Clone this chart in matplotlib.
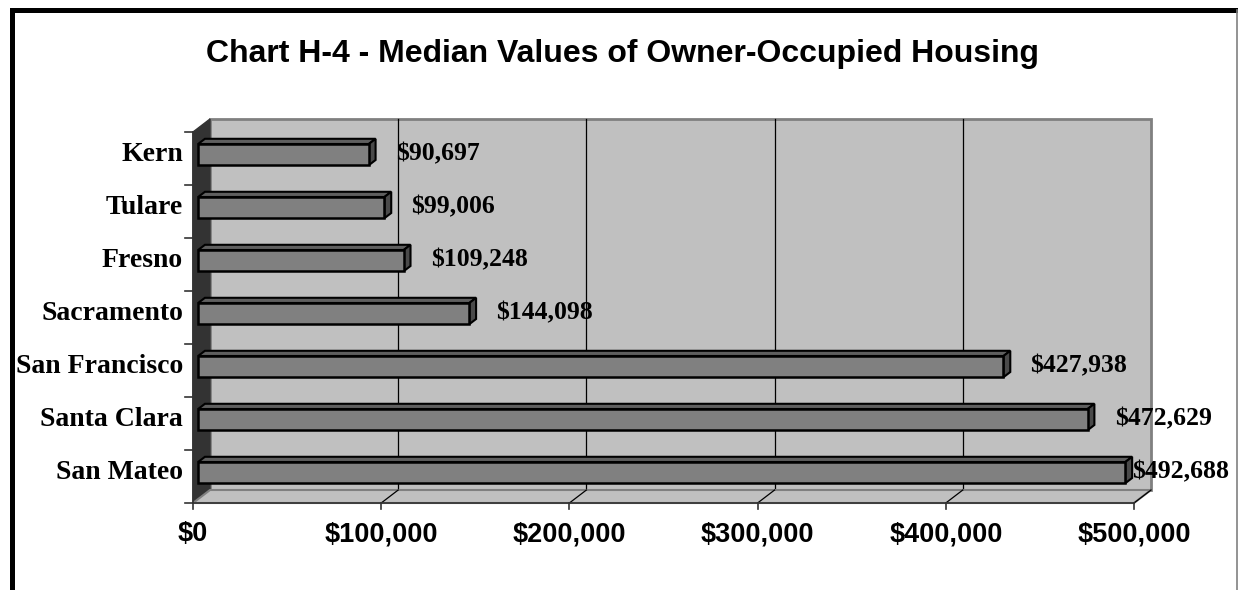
import matplotlib.pyplot as plt
from matplotlib.patches import Polygon
from matplotlib.lines import Line2D

counties = ["San Mateo", "Santa Clara", "San Francisco", "Sacramento",
            "Fresno", "Tulare", "Kern"]
median_values = [492688, 472629, 427938, 144098, 109248, 99006, 90697]
value_labels = ["$492,688", "$472,629", "$427,938", "$144,098",
                "$109,248", "$99,006", "$90,697"]
x_ticks = [0, 100000, 200000, 300000, 400000, 500000]
x_tick_labels = ["$0", "$100,000", "$200,000", "$300,000", "$400,000", "$500,000"]

W, H = 1238, 590
fig = plt.figure(figsize=(W / 100, H / 100), dpi=100)
fig.patch.set_facecolor("white")

# front plane of the 3-D box
ax = fig.add_axes([193 / W, 87 / H, 941 / W, 371 / H])
ax.set_xlim(0, 500000)
ax.set_ylim(-0.5, len(counties) - 0.5)
ax.axis("off")

# pixel sizes in data units
p0 = ax.transData.transform((0, 0))
p1 = ax.transData.transform((1, 1))
px_x = p1[0] - p0[0]
px_y = p1[1] - p0[1]
DX, DY = 17 / px_x, 13 / px_y          # full depth of the box
x0, x1 = 0, 500000
y0, y1 = -0.5, len(counties) - 0.5


def poly(pts, **kw):
    ax.add_patch(Polygon(pts, closed=True, clip_on=False, **kw))


def line(xs, ys, **kw):
    ax.add_line(Line2D(xs, ys, clip_on=False, **kw))


# back wall, side wall, floor
poly([(x0 + DX, y0 + DY), (x1 + DX, y0 + DY), (x1 + DX, y1 + DY), (x0 + DX, y1 + DY)],
     fc="#c0c0c0", ec="#808080", lw=2, zorder=1)
poly([(x0, y0), (x0 + DX, y0 + DY), (x0 + DX, y1 + DY), (x0, y1)],
     fc="#333333", ec="#333333", lw=1, zorder=2)
poly([(x0, y0), (x1, y0), (x1 + DX, y0 + DY), (x0 + DX, y0 + DY)],
     fc="#c0c0c0", ec="#808080", lw=1.5, zorder=2)

# gridlines on the wall and floor
for xv in x_ticks[1:-1]:
    line([xv + DX, xv + DX], [y0 + DY, y1 + DY], color="black", lw=0.9, zorder=1.5)
for xv in x_ticks[1:]:
    line([xv, xv + DX], [y0, y0 + DY], color="black", lw=0.9, zorder=2.5)

# axes lines and ticks
line([x0, x1], [y0, y0], color="#333333", lw=1.2, zorder=3)
line([x0, x0], [y0, y1], color="#333333", lw=1.2, zorder=3)
for xv in x_ticks:
    line([xv, xv], [y0, y0 - 6 / px_y], color="#333333", lw=1.2, zorder=3)
for k in range(len(counties) + 1):
    yv = y0 + k
    line([x0, x0 - 8 / px_x], [yv, yv], color="#333333", lw=1.2, zorder=3)

# 3-D bars
fx, fy = 0.3 * DX, 0.3 * DY
bx, by = 0.7 * DX, 0.7 * DY
half = 0.2
for i, v in enumerate(median_values):
    lo, hi = i - half + fy, i + half + fy
    ddx, ddy = bx - fx, by - fy
    z = 10 - i * 0.01
    poly([(fx, hi), (v + fx, hi), (v + fx + ddx, hi + ddy), (fx + ddx, hi + ddy)],
         fc="#5f5f5f", ec="black", lw=1.5, zorder=z)
    poly([(v + fx, lo), (v + fx + ddx, lo + ddy), (v + fx + ddx, hi + ddy), (v + fx, hi)],
         fc="#4a4a4a", ec="black", lw=1.5, zorder=z)
    poly([(fx, lo), (v + fx, lo), (v + fx, hi), (fx, hi)],
         fc="#808080", ec="black", lw=1.8, zorder=z)

# value labels
labels = []
for i, (v, s) in enumerate(zip(median_values, value_labels)):
    t = ax.text(v + fx + 27 / px_x, i + fy + 1 / px_y, s, ha="left", va="center",
                family="Liberation Serif", fontweight="bold", fontsize=18.5,
                zorder=20, clip_on=False)
    labels.append(t)

# category labels
for i, name in enumerate(counties):
    ax.text(x0 - 10 / px_x, i + fy, name, ha="right", va="center",
            family="Liberation Serif", fontweight="bold", fontsize=20, clip_on=False)

# x tick labels
for xv, s in zip(x_ticks, x_tick_labels):
    ax.text(xv, y0 - 31 / px_y, s, ha="center", va="center",
            family="Liberation Sans", fontweight="bold", fontsize=19.5, clip_on=False)

fig.text(623 / W, 1 - 62 / H, "Chart H-4 - Median Values of Owner-Occupied Housing",
         ha="center", va="baseline", family="Liberation Sans",
         fontweight="bold", fontsize=23)

# keep labels inside the chart area
fig.canvas.draw()
r = fig.canvas.get_renderer()
for t in labels:
    bb = t.get_window_extent(r)
    if bb.x1 > 1229:
        xd = ax.transData.inverted().transform((1229 - bb.width, 0))[0]
        t.set_x(xd)

# outer border
fig.add_artist(Line2D([11.5 / W, 11.5 / W, 1237 / W], [0, 1 - 9.5 / H, 1 - 9.5 / H],
                      color="black", lw=3.6, transform=fig.transFigure,
                      solid_joinstyle="miter"))
fig.add_artist(Line2D([1237 / W, 1237 / W], [0, 1 - 9.5 / H],
                      color="#808080", lw=1.2, transform=fig.transFigure))

fig.savefig("out.png", dpi=100)
